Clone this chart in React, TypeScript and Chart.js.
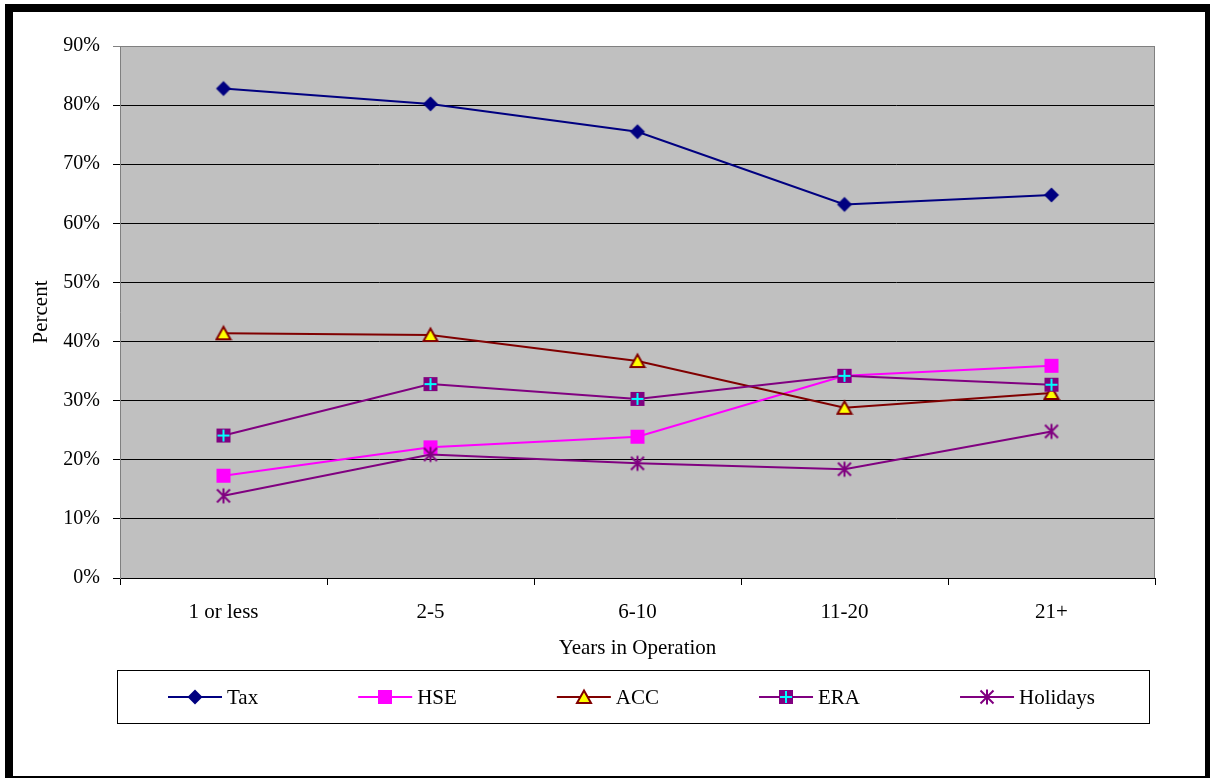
import React, { useEffect, useRef } from 'react';
import { Chart, registerables } from 'chart.js';

Chart.register(...registerables);

const categories = ['1 or less', '2-5', '6-10', '11-20', '21+'];
const seriesNames = ['Tax', 'HSE', 'ACC', 'ERA', 'Holidays'];
const taxValues = [82.8, 80.2, 75.5, 63.2, 64.8];
const hseValues = [17.3, 22.1, 23.9, 34.2, 35.9];
const accValues = [41.4, 41.1, 36.7, 28.8, 31.3];
const eraValues = [24.1, 32.8, 30.3, 34.2, 32.7];
const holidaysValues = [13.9, 20.9, 19.4, 18.4, 24.8];
const yAxisTitle = 'Percent';
const xAxisTitle = 'Years in Operation';
const yMin = 0;
const yMax = 90;
const yStep = 10;

const FONT = "'Liberation Serif', 'Times New Roman', serif";

function makeMarker(kind: string): HTMLCanvasElement {
  const c = document.createElement('canvas');
  const s = 18;
  c.width = s;
  c.height = s;
  const g = c.getContext('2d') as CanvasRenderingContext2D;
  const m = s / 2;
  if (kind === 'diamond') {
    g.fillStyle = '#000080';
    g.beginPath();
    g.moveTo(m, m - 7.5);
    g.lineTo(m + 7.5, m);
    g.lineTo(m, m + 7.5);
    g.lineTo(m - 7.5, m);
    g.closePath();
    g.fill();
  } else if (kind === 'square') {
    g.fillStyle = '#FF00FF';
    g.fillRect(m - 7, m - 7, 14, 14);
  } else if (kind === 'triangle') {
    g.fillStyle = '#FFFF00';
    g.strokeStyle = '#800000';
    g.lineWidth = 2;
    g.lineJoin = 'miter';
    g.beginPath();
    g.moveTo(m, m - 6.5);
    g.lineTo(m + 7, m + 6);
    g.lineTo(m - 7, m + 6);
    g.closePath();
    g.fill();
    g.stroke();
  } else if (kind === 'era') {
    g.fillStyle = '#800080';
    g.fillRect(m - 7, m - 7, 14, 14);
    g.fillStyle = '#00FFFF';
    g.fillRect(m - 1, m - 6, 2, 12);
    g.fillRect(m - 6, m - 1, 12, 2);
  } else if (kind === 'star') {
    g.strokeStyle = '#800080';
    g.lineWidth = 2;
    g.beginPath();
    g.moveTo(m, m - 7.5);
    g.lineTo(m, m + 7.5);
    g.moveTo(m - 6.5, m - 6.5);
    g.lineTo(m + 6.5, m + 6.5);
    g.moveTo(m + 6.5, m - 6.5);
    g.lineTo(m - 6.5, m + 6.5);
    g.stroke();
  }
  return c;
}

export default function App() {
  const ref = useRef<HTMLCanvasElement | null>(null);

  useEffect(() => {
    const canvas = ref.current;
    if (!canvas) return;
    const markers = [
      makeMarker('diamond'),
      makeMarker('square'),
      makeMarker('triangle'),
      makeMarker('era'),
      makeMarker('star'),
    ];
    const colors = ['#000080', '#FF00FF', '#800000', '#800080', '#800080'];
    const values = [taxValues, hseValues, accValues, eraValues, holidaysValues];

    const framePlugin = {
      id: 'framePlugin',
      beforeDraw(chart: any) {
        const { ctx, chartArea } = chart;
        ctx.save();
        ctx.fillStyle = '#FFFFFF';
        ctx.fillRect(0, 0, chart.width, chart.height);
        ctx.fillStyle = '#000000';
        ctx.fillRect(5, 4, 1205, 774);
        ctx.fillStyle = '#FFFFFF';
        ctx.fillRect(13, 12, 1192, 764);
        ctx.fillStyle = '#C0C0C0';
        ctx.fillRect(chartArea.left, chartArea.top, chartArea.right - chartArea.left, chartArea.bottom - chartArea.top);
        ctx.restore();
      },
      beforeDatasetsDraw(chart: any) {
        const { ctx, chartArea } = chart;
        ctx.save();
        ctx.strokeStyle = '#808080';
        ctx.lineWidth = 1;
        ctx.beginPath();
        ctx.moveTo(chartArea.left, chartArea.top + 0.5);
        ctx.lineTo(chartArea.right, chartArea.top + 0.5);
        ctx.moveTo(chartArea.right - 0.5, chartArea.top);
        ctx.lineTo(chartArea.right - 0.5, chartArea.bottom);
        ctx.stroke();
        ctx.restore();
      },
      afterDraw(chart: any) {
        const { ctx, chartArea } = chart;
        ctx.save();
        ctx.fillStyle = '#000000';
        ctx.font = `21px ${FONT}`;
        ctx.textAlign = 'center';
        ctx.textBaseline = 'middle';
        ctx.fillText(xAxisTitle, (chartArea.left + chartArea.right) / 2, 648);
        ctx.save();
        ctx.translate(41, (chartArea.top + chartArea.bottom) / 2);
        ctx.rotate(-Math.PI / 2);
        ctx.fillText(yAxisTitle, 0, 0);
        ctx.restore();

        // legend
        ctx.fillStyle = '#FFFFFF';
        ctx.fillRect(117, 670, 1032, 53);
        ctx.strokeStyle = '#000000';
        ctx.lineWidth = 1;
        ctx.strokeRect(117.5, 670.5, 1032, 53);
        let x = 168;
        const yc = 697;
        ctx.textAlign = 'left';
        seriesNames.forEach((name, i) => {
          ctx.strokeStyle = colors[i];
          ctx.lineWidth = 2;
          ctx.beginPath();
          ctx.moveTo(x, yc);
          ctx.lineTo(x + 54, yc);
          ctx.stroke();
          const mk = markers[i];
          ctx.drawImage(mk, Math.round(x + 27 - mk.width / 2), Math.round(yc - mk.height / 2));
          ctx.fillStyle = '#000000';
          ctx.fillText(name, x + 59, yc + 1);
          x += 59 + ctx.measureText(name).width + 100;
        });
        ctx.restore();
      },
    };

    const chart = new Chart(canvas, {
      type: 'line',
      data: {
        labels: categories,
        datasets: seriesNames.map((name, i) => ({
          label: name,
          data: values[i],
          borderColor: colors[i],
          backgroundColor: colors[i],
          borderWidth: 2,
          pointStyle: markers[i] as any,
          pointRadius: 7,
          pointHoverRadius: 7,
          tension: 0,
          fill: false,
          order: seriesNames.length - i,
        })),
      },
      options: {
        animation: false,
        responsive: false,
        devicePixelRatio: 1,
        layout: { padding: { top: 46, right: 55, left: 0, bottom: 0 } },
        plugins: {
          legend: { display: false },
          tooltip: { enabled: false },
          title: { display: false },
        },
        scales: {
          x: {
            offset: true,
            afterFit(scale: any) {
              scale.height = 200;
            },
            grid: {
              offset: true,
              drawOnChartArea: false,
              drawTicks: true,
              tickLength: 7,
              color: '#000000',
            },
            border: { color: '#000000', width: 1 },
            ticks: {
              color: '#000000',
              padding: 15,
              font: { family: FONT, size: 21 },
              maxRotation: 0,
            },
          },
          y: {
            min: yMin,
            max: yMax,
            afterFit(scale: any) {
              scale.width = 120;
            },
            ticks: {
              stepSize: yStep,
              color: '#000000',
              padding: 13,
              font: { family: FONT, size: 20 },
              callback: (v: any) => `${v}%`,
            },
            grid: {
              color: (c: any) => (c.tick && c.tick.value === yMax ? '#808080' : '#000000'),
              tickLength: 7,
              lineWidth: 1,
            },
            border: { color: '#808080', width: 1 },
          },
        },
      },
      plugins: [framePlugin],
    });
    return () => chart.destroy();
  }, []);

  return (
    <div style={{ position: 'absolute', left: 0, top: 0, width: 1210, height: 778 }}>
      <canvas ref={ref} width={1210} height={778} style={{ display: 'block' }} />
    </div>
  );
}
